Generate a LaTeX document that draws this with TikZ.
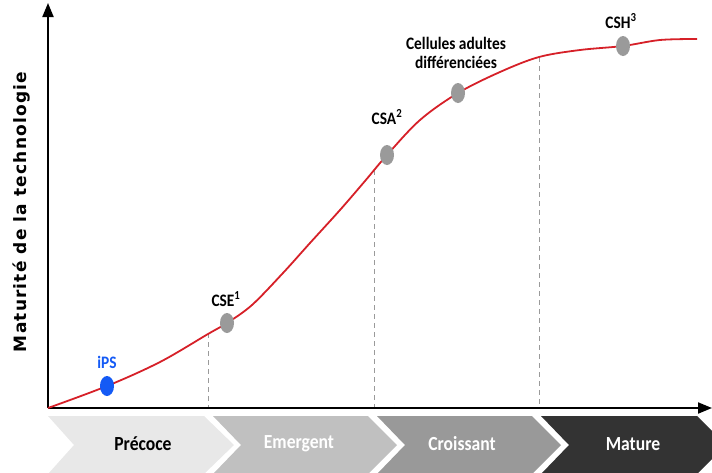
\documentclass[tikz,border=0pt]{standalone}
\usepackage{fontspec}
\setmainfont{Carlito}
\newfontfamily\lblfont[FakeStretch=0.88]{Carlito}
\newfontfamily\axfont[LetterSpace=7]{DejaVu Sans}
\usetikzlibrary{shapes.geometric,arrows.meta}
\definecolor{curvered}{RGB}{214,32,40}
\definecolor{dotgray}{RGB}{154,154,154}
\definecolor{ipsblue}{RGB}{20,90,245}
\definecolor{chevA}{RGB}{232,232,232}
\definecolor{chevB}{RGB}{192,192,192}
\definecolor{chevC}{RGB}{153,153,153}
\definecolor{chevD}{RGB}{51,51,51}
\tikzset{
  dotmark/.style={ellipse,fill=dotgray,draw=none,minimum width=14pt,minimum height=20pt,inner sep=0pt},
  ipsmark/.style={dotmark,fill=ipsblue},
  ptlabel/.style={font=\lblfont\bfseries\fontsize{17.5}{19.5}\selectfont,inner sep=0pt,align=center},
  phaselabel/.style={font=\lblfont\bfseries\fontsize{20}{22}\selectfont,inner sep=0pt},
  guide/.style={draw=dotgray,line width=0.8pt,dash pattern=on 5pt off 4pt},
  axisline/.style={line width=2pt,-{Triangle[length=14pt,width=11pt]}}
}
\begin{document}
\begin{tikzpicture}[x=1pt,y=-1pt]
\useasboundingbox (0,0) rectangle (712,472);
\begin{scope}
\clip (0,0) rectangle (712,472);
% chevrons
\fill[chevA] (48,416) -- (204,416) -- (234,445) -- (204,474) -- (48,474) -- (74,445) -- cycle;
\fill[chevB] (213,416) -- (368,416) -- (397,445) -- (368,474) -- (213,474) -- (241,445) -- cycle;
\fill[chevC] (377,416) -- (532,416) -- (561,445) -- (532,474) -- (377,474) -- (405,445) -- cycle;
\fill[chevD] (541,416) -- (697,416) -- (726,445) -- (697,474) -- (541,474) -- (569,445) -- cycle;
\end{scope}
\node[phaselabel,text=black] (p1) at (143,444) {Précoce};
\node[phaselabel,text=white] (p2) at (299,444) {Emergent};
\node[phaselabel,text=white] (p3) at (462,444) {Croissant};
\node[phaselabel,text=white] (p4) at (633,444) {Mature};
% guides
\coordinate (g1) at (208,333);
\coordinate (g2) at (374,170);
\coordinate (g3) at (539,57);
\draw[guide] (g1) -- (208,408);
\draw[guide] (g2) -- (374,408);
\draw[guide] (g3) -- (539,408);
% axes
\coordinate (o) at (48,408);
\coordinate (ytop) at (48,3);
\coordinate (xend) at (712,408);
\draw[axisline] (o) -- (ytop);
\draw[axisline] (o) -- (xend);
% curve
\draw[curvered,line width=1.8pt] plot[smooth,tension=0.55] coordinates {
 (48,408) (107,386) (160,362) (208,334) (227,323) (252,305) (283,273)
 (310,243) (340,210) (365,181) (387,155) (420,120) (458,93) (500,72)
 (539,57) (580,50) (623,46) (660,40) (697,39)};
% markers
\node[ipsmark] (ips) at (107,386) {};
\node[dotmark] (cse) at (227,323) {};
\node[dotmark] (csa) at (387,155) {};
\node[dotmark] (cad) at (458,93) {};
\node[dotmark] (csh) at (623,46) {};
% labels
\node[ptlabel,text=ipsblue] (lips) at (107,362) {iPS};
\node[ptlabel] (lcse) at (226,299) {CSE\textsuperscript{1}};
\node[ptlabel] (lcsa) at (387,117) {CSA\textsuperscript{2}};
\node[ptlabel] (lcad) at (456,53) {Cellules adultes\\différenciées};
\node[ptlabel] (lcsh) at (621,21) {CSH\textsuperscript{3}};
\node[rotate=90,font=\axfont\bfseries\fontsize{17}{19}\selectfont,inner sep=0pt] (ylab) at (22,212) {Maturité de la technologie};
\end{tikzpicture}
\end{document}
